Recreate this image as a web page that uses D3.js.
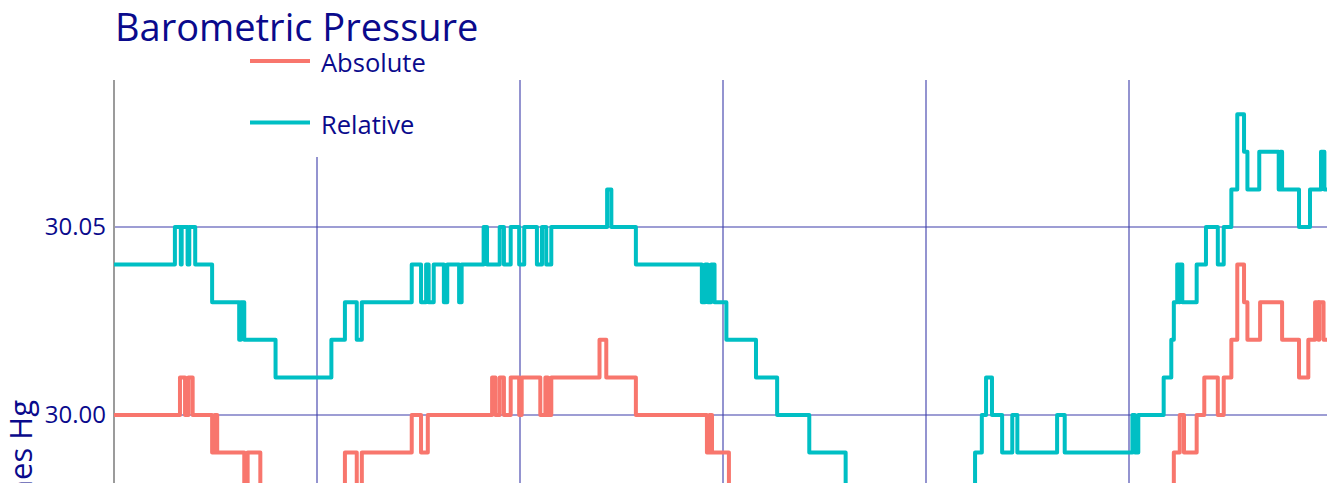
<!DOCTYPE html>
<html>
<head>
<meta charset="utf-8">
<script src="https://cdn.jsdelivr.net/npm/d3@7"></script>
<style>
  body { margin: 0; background: #fff; }
  svg { display: block; font-family: "Open Sans", "Noto Sans", sans-serif; }
</style>
</head>
<body>
<div id="chart"></div>
<script>
// readings: minutes after the start of the day, inches Hg (only changes listed)
const relTimes = [0, 72, 79, 80, 87, 89, 96, 116, 148, 150, 154, 191, 257, 273, 287, 293,
  352, 363, 369, 372, 378, 390, 394, 408, 411, 437, 441, 456, 461, 469, 479, 485,
  500, 506, 511, 517, 583, 588, 617, 695, 699, 702, 706, 710, 724, 759, 784, 822,
  865, 920, 975, 1018, 1026, 1031, 1038, 1050, 1062, 1068, 1115, 1124, 1204, 1207,
  1211, 1241, 1250, 1253, 1257, 1259, 1260, 1263, 1280, 1291, 1305, 1312, 1321,
  1328, 1336, 1340, 1354, 1377, 1379, 1381, 1401, 1414, 1427, 1431, 1440];
const relValues = [30.04, 30.05, 30.04, 30.05, 30.04, 30.05, 30.04, 30.03, 30.02, 30.03, 30.02, 30.01, 30.02, 30.03, 30.02, 30.03,
  30.04, 30.03, 30.04, 30.03, 30.04, 30.03, 30.04, 30.03, 30.04, 30.05, 30.04, 30.05, 30.04, 30.05, 30.04, 30.05,
  30.04, 30.05, 30.04, 30.05, 30.06, 30.05, 30.04, 30.03, 30.04, 30.03, 30.04, 30.03, 30.02, 30.01, 30.00, 29.99,
  29.98, 29.97, 29.98, 29.99, 30.00, 30.01, 30.00, 29.99, 30.00, 29.99, 30.00, 29.99, 30.00, 29.99,
  30.00, 30.01, 30.02, 30.03, 30.04, 30.03, 30.04, 30.03, 30.04, 30.05, 30.04, 30.05, 30.06,
  30.08, 30.07, 30.06, 30.07, 30.06, 30.07, 30.06, 30.05, 30.06, 30.07, 30.06, 30.06];

const absTimes = [0, 78, 84, 88, 93, 116, 119, 122, 154, 158, 173, 191, 257, 273, 287, 293,
  352, 363, 371, 447, 451, 456, 461, 469, 479, 482, 504, 510, 513, 517, 574, 582,
  617, 701, 704, 707, 727, 759, 784, 822, 865, 1018, 1062, 1204, 1241, 1250, 1253,
  1260, 1265, 1280, 1289, 1305, 1312, 1321, 1328, 1336, 1340, 1355, 1381, 1401,
  1412, 1420, 1424, 1425, 1430, 1440];
const absValues = [30.00, 30.01, 30.00, 30.01, 30.00, 29.99, 30.00, 29.99, 29.98, 29.99, 29.98, 29.97, 29.98, 29.99, 29.98, 29.99,
  30.00, 29.99, 30.00, 30.01, 30.00, 30.01, 30.00, 30.01, 30.00, 30.01, 30.00, 30.01, 30.00, 30.01, 30.02, 30.01,
  30.00, 29.99, 30.00, 29.99, 29.98, 29.97, 29.96, 29.95, 29.94, 29.95, 29.96, 29.96, 29.97, 29.98, 29.99,
  30.00, 29.99, 30.00, 30.01, 30.00, 30.01, 30.02, 30.04, 30.03, 30.02, 30.03, 30.02, 30.01,
  30.02, 30.03, 30.02, 30.03, 30.02, 30.02];

const seriesNames = ["Absolute", "Relative"];
const seriesColors = ["#f8766d", "#00bfc4"];
const yTicks = [29.95, 30.00, 30.05];
const xGridMinutes = [0, 240, 480, 720, 960, 1200, 1440];

const width = 1327, height = 483;
const plotTop = 80, plotBottom = 900;
const navy = "#0a0a8c";

const svg = d3.select("#chart").append("svg")
    .attr("width", width)
    .attr("height", height);

const x = d3.scaleLinear().domain([0, 1440]).range([114, 1332]);
const y = d3.scaleLinear().domain([29.90, 30.09]).range([791, 76.6]);

// grid
svg.append("g").selectAll("line")
    .data(xGridMinutes.slice(1))
    .enter().append("line")
    .attr("x1", d => x(d)).attr("x2", d => x(d))
    .attr("y1", plotTop).attr("y2", plotBottom)
    .attr("stroke", "#3c3caa").attr("stroke-width", 1.1);

svg.append("g").selectAll("line")
    .data(yTicks)
    .enter().append("line")
    .attr("x1", x(0)).attr("x2", width)
    .attr("y1", d => y(d)).attr("y2", d => y(d))
    .attr("stroke", "#3c3caa").attr("stroke-width", 1.1);

// y axis
const yAxis = svg.append("g")
    .attr("transform", `translate(${x(0) - 5},0)`)
    .call(d3.axisLeft(y).tickValues(yTicks).tickSize(0).tickFormat(d3.format(".2f")));
yAxis.select(".domain").remove();
yAxis.selectAll("text")
    .attr("fill", navy)
    .style("font-size", "24px")
    .style("font-family", "Open Sans");

svg.append("line")
    .attr("x1", x(0)).attr("x2", x(0))
    .attr("y1", plotTop).attr("y2", plotBottom)
    .attr("stroke", "#9b9b9b").attr("stroke-width", 2);

svg.append("text")
    .attr("transform", "translate(32,400) rotate(-90)")
    .attr("text-anchor", "end")
    .attr("fill", navy)
    .style("font-size", "31px")
    .text("Inches Hg");

// lines
svg.append("clipPath").attr("id", "clip")
    .append("rect").attr("x", x(0)).attr("y", plotTop)
    .attr("width", x(1440) - x(0)).attr("height", plotBottom - plotTop);

const line = d3.line()
    .x(d => x(d[0]))
    .y(d => y(d[1]))
    .curve(d3.curveStepAfter);

const series = [
    d3.zip(absTimes, absValues),
    d3.zip(relTimes, relValues)
];

svg.append("g").attr("clip-path", "url(#clip)")
    .selectAll("path")
    .data(series)
    .enter().append("path")
    .attr("fill", "none")
    .attr("stroke", (d, i) => seriesColors[i])
    .attr("stroke-width", 4)
    .attr("stroke-linejoin", "round")
    .attr("d", line);

// legend box
svg.append("rect")
    .attr("x", 240).attr("y", 48)
    .attr("width", 200).attr("height", 109)
    .attr("fill", "#fff");

const legend = svg.append("g").selectAll("g")
    .data(seriesNames)
    .enter().append("g")
    .attr("transform", (d, i) => `translate(250,${61 + i * 61.5})`);

legend.append("line")
    .attr("x1", 0).attr("x2", 60)
    .attr("stroke", (d, i) => seriesColors[i])
    .attr("stroke-width", 4);

legend.append("text")
    .attr("x", 71).attr("y", 11)
    .attr("fill", navy)
    .style("font-size", "25.5px")
    .text(d => d);

// title
svg.append("text")
    .attr("x", 115).attr("y", 41)
    .attr("fill", navy)
    .style("font-size", "38px")
    .text("Barometric Pressure");
</script>
</body>
</html>
